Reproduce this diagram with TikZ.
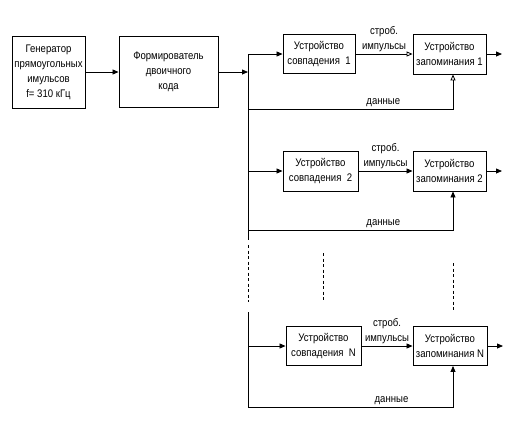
\documentclass[tikz,border=0pt]{standalone}
\usepackage{fontspec}
\setmainfont{Liberation Sans}[FakeStretch=0.87]
\usetikzlibrary{arrows.meta}

\begin{document}
\begin{tikzpicture}[x=1pt,y=-1pt,line width=0.8pt,>={Triangle[length=6pt,width=5pt]},
    blk/.style={draw,line width=0.9pt,align=center,inner sep=0.5pt,font=\fontsize{11}{15}\selectfont},
    lbl/.style={align=center,inner sep=1pt,font=\fontsize{11}{15}\selectfont},
    opn/.style={-{Triangle[open,length=6pt,width=5pt]}},
    dots/.style={dash pattern=on 3pt off 2.5pt}]
  \useasboundingbox (0,0) rectangle (506,424);
  \node[blk,minimum width=73,minimum height=72] (gen) at (48.5,72) {Генератор\\прямоугольных\\имульсов\\f= 310 кГц};
  \node[blk,minimum width=99,minimum height=71] (form) at (168.5,72) {Формирователь\\двоичного\\кода};
  \node[blk,minimum width=72,minimum height=39] (sov1) at (319,54) {Устройство\\совпадения\ \ 1};
  \node[blk,minimum width=73,minimum height=40] (zap1) at (449.5,54) {Устройство\\запоминания 1};
  \node[blk,minimum width=75,minimum height=40] (sov2) at (320.5,171) {Устройство\\совпадения\ \ 2};
  \node[blk,minimum width=73,minimum height=40] (zap2) at (449.5,171) {Устройство\\запоминания 2};
  \node[blk,minimum width=75,minimum height=39] (sovN) at (323.5,346) {Устройство\\совпадения\ \ N};
  \node[blk,minimum width=74,minimum height=39] (zapN) at (450,346) {Устройство\\запоминания N};
  \coordinate (bus0) at (248,54);
  \coordinate (busj) at (248,72);
  \coordinate (bus2) at (248,171);
  \coordinate (busa) at (248,240);
  \coordinate (busb) at (248,245);
  \coordinate (busc) at (248,302);
  \coordinate (busN) at (248,346);
  \coordinate (busd) at (248,312);
  \coordinate (d1) at (248,109);
  \coordinate (d2) at (248,230);
  \coordinate (dN) at (248,407);
  \coordinate (out1) at (502,54);
  \coordinate (out2) at (502,171);
  \coordinate (outN) at (503,346);
  \draw[->] (gen) -- (form);
  \draw[->] (form) -- (busj);
  \draw (bus0) -- (busa);
  \draw[dots] (busb) -- (busc);
  \draw (busd) -- (dN);
  \draw[->] (bus0) -- (sov1);
  \draw[opn] (sov1) -- (zap1) node[midway,above,lbl,yshift=1pt]{строб.\\импульсы};
  \draw[->] (zap1) -- (out1);
  \draw[opn] (d1) -| ([xshift=3.5pt]zap1.south) node[pos=0.33,above,lbl,yshift=1pt]{данные};
  \draw[->] (bus2) -- (sov2);
  \draw[->] (sov2) -- (zap2) node[midway,above,lbl,yshift=1pt]{строб.\\импульсы};
  \draw[->] (zap2) -- (out2);
  \draw[->] (d2) -| ([xshift=3.5pt]zap2.south) node[pos=0.33,above,lbl,yshift=1pt]{данные};
  \draw[dots] (323,253) -- (323,300);
  \draw[dots] (453,263) -- (453,312);
  \draw[->] (busN) -- (sovN);
  \draw[->] (sovN) -- (zapN) node[midway,above,lbl,yshift=1pt]{строб.\\импульсы};
  \draw[->] (zapN) -- (outN);
  \draw[->] (dN) -| ([xshift=3pt]zapN.south) node[pos=0.35,above,lbl,yshift=1pt]{данные};
\end{tikzpicture}
\end{document}
